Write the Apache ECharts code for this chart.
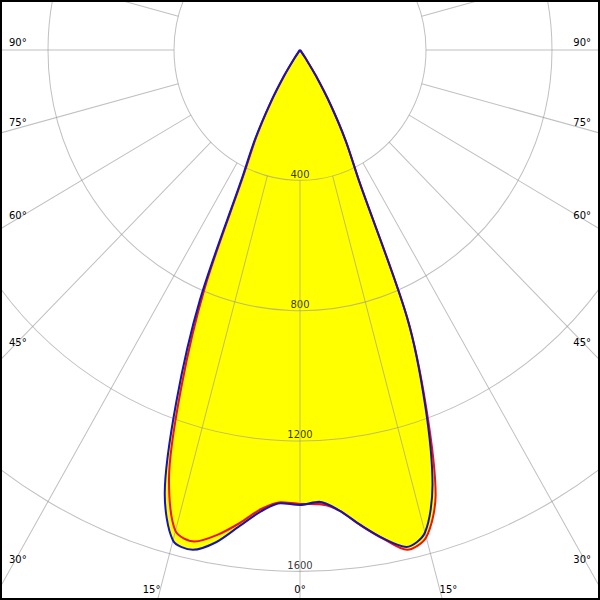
<!DOCTYPE html>
<html><head><meta charset="utf-8">
<script src="https://cdn.jsdelivr.net/npm/echarts@6/dist/echarts.min.js"></script>
<style>
html,body{margin:0;padding:0;background:#fff;}
#wrap{position:relative;width:600px;height:600px;overflow:hidden;background:#fff;}
#chart{position:absolute;left:0;top:0;width:600px;height:580px;transform-origin:0 0;transform:scaleY(1.0345);}
#frame{position:absolute;left:0;top:0;width:600px;height:600px;box-sizing:border-box;border:2px solid #000;pointer-events:none;}
</style></head><body>
<div id="wrap"><div id="chart"></div><div id="frame"></div></div>
<script>
// gamma angles (degrees, 0 = straight down)
const gammaAngles = [-45,-42.5,-40,-37.5,-35,-32.5,-30,-27.5,-25,-22.5,-20,-17.5,-15,-12.5,-10,-7.5,-5,-2.5,0,
  2.5,5,7.5,10,12.5,15,17.5,20,22.5,25,27.5,30,32.5,35,37.5,40,42.5,45];
// C0-C180 plane (blue), cd
const planeC0 = [0,0,0,8,30,95,190,310,440,830,1147,1428,1558,1571,1534,1474,1421,1392,1396,
  1388,1418,1470,1522,1562,1533,1399,1163,888,445,315,195,95,30,8,0,0,0];
// C90-C270 plane (red), cd
const planeC90 = [0,0,0,7,28,90,185,300,425,790,1102,1383,1528,1545,1511,1464,1414,1389,1393,
  1395,1418,1471,1523,1571,1548,1432,1175,890,445,315,195,95,30,8,0,0,0];
const radiusTicks = [400,800,1200,1600];
const angleTicks = [0,15,30,45,60,75,90];

const K = 1.0345;           // vertical stretch of the picture
const CXs = 300, CYs = 50;  // screen centre
const chart = echarts.init(document.getElementById('chart'), null, {renderer:'svg'});

function ptsOf(arr){ return gammaAngles.map((g,i)=>[arr[i], g]); }

// angle labels along the frame
const graphics = [];
function labelOffset(g){ return 8 - 12.5*Math.pow((90-g)/60, 1.3); }
angleTicks.forEach(g=>{
  const sides = g===0 ? [0] : [-1,1];
  sides.forEach(s=>{
    const r = g*Math.PI/180;
    const dx = Math.sin(r), dy = K*Math.cos(r);
    let x, y, align;
    const lamB = dy>1e-9 ? (589-CYs)/dy : Infinity;
    const xb = lamB*dx;
    if (xb <= 282) {
      x = CXs + s*xb; y = 589;
      align = g===0 ? 'center' : (s<0 ? 'right' : 'left');
    } else {
      const lam = 282/dx;
      y = CYs + lam*dy - labelOffset(g);
      x = s<0 ? 9 : 591;
      align = s<0 ? 'left' : 'right';
    }
    graphics.push({type:'text', x:x, y:y/K, silent:true, z:10,
      style:{text:g+'°', fill:'#000', font:'10px "DejaVu Sans"', align:align, verticalAlign:'middle',
             textAlign:align, textVerticalAlign:'middle'}});
  });
});

const gridColor = 'rgba(150,150,150,0.6)';
const hiddenAxis = {axisLine:{show:false}, axisTick:{show:false}, axisLabel:{show:false}, splitLine:{show:false}};
chart.setOption({
  animation:false,
  backgroundColor:'#fff',
  polar:[{center:[CXs, CYs/K], radius:[126, 630]}, {center:[CXs, CYs/K], radius:[0, 630]}],
  angleAxis:[
    {polarIndex:0, type:'value', min:-180, max:180, interval:15, startAngle:90, clockwise:false, z:2,
      axisLine:{show:false}, axisTick:{show:false}, axisLabel:{show:false},
      splitLine:{show:true, lineStyle:{color:gridColor, width:1}}},
    Object.assign({polarIndex:1, type:'value', min:-180, max:180, interval:15, startAngle:90, clockwise:false}, hiddenAxis)
  ],
  radiusAxis:[
    {polarIndex:0, type:'value', min:400, max:2000, interval:400, z:2,
      axisLine:{show:false}, axisTick:{show:false}, axisLabel:{show:false},
      splitLine:{show:true, lineStyle:{color:gridColor, width:1}}},
    Object.assign({polarIndex:1, type:'value', min:0, max:2000, interval:400}, hiddenAxis)
  ],
  graphic:graphics,
  series:[
    {type:'line', coordinateSystem:'polar', polarIndex:1, data:ptsOf(planeC0), symbol:'none', smooth:0.3, z:1,
      lineStyle:{width:0, opacity:0}, areaStyle:{color:'#ffff00', opacity:1, origin:0}, silent:true},
    {type:'line', coordinateSystem:'polar', polarIndex:1, data:ptsOf(planeC90), symbol:'none', smooth:0.3, z:1,
      lineStyle:{width:0, opacity:0}, areaStyle:{color:'#ffff00', opacity:1, origin:0}, silent:true},
    {type:'scatter', coordinateSystem:'polar', polarIndex:1, data:radiusTicks.map(v=>[v,0]), symbolSize:0, z:1, silent:true,
      label:{show:true, position:'inside', offset:[0,-6], formatter:p=>String(p.value[0]),
        color:'#000', fontSize:10, fontFamily:'DejaVu Sans'}},
    {type:'line', coordinateSystem:'polar', polarIndex:1, data:ptsOf(planeC90), symbol:'none', smooth:0.3, z:3,
      lineStyle:{width:2, color:'#ee1111'}, silent:true},
    {type:'line', coordinateSystem:'polar', polarIndex:1, data:ptsOf(planeC0), symbol:'none', smooth:0.3, z:4,
      lineStyle:{width:2, color:'#1414b8'}, silent:true}
  ]
});
</script>
</body></html>
